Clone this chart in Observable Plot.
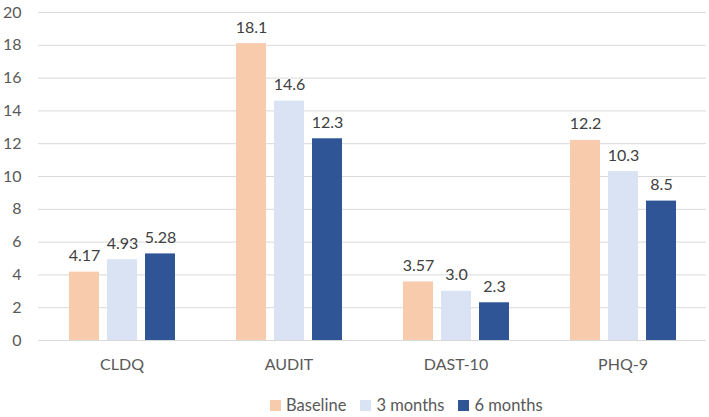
<!DOCTYPE html>
<html>
<head>
<meta charset="utf-8">
<script src="https://cdn.jsdelivr.net/npm/d3@7"></script>
<script src="https://cdn.jsdelivr.net/npm/@observablehq/plot@0.6"></script>
<style>
  html, body { margin: 0; padding: 0; background: #fff; }
  body { width: 709px; height: 417px; overflow: hidden; font-family: Lato, "Noto Sans", sans-serif; }
  #legend { display: flex; align-items: center; margin-top: 10px; height: 20px; padding-left: 270px; font-size: 16.5px; color: #595959; }
  .item { display: flex; align-items: center; margin-right: 14px; }
  .sw { width: 11px; height: 11px; margin-right: 5px; }
</style>
</head>
<body>
<div id="chart"></div>
<div id="legend"></div>
<script>
const categories = ["CLDQ", "AUDIT", "DAST-10", "PHQ-9"];
const series = ["Baseline", "3 months", "6 months"];
const colors = ["#F8CBAD", "#DAE3F3", "#2F5597"];
const baseline = [4.17, 18.1, 3.57, 12.2];
const threeMonths = [4.93, 14.6, 3.0, 10.3];
const sixMonths = [5.28, 12.3, 2.3, 8.5];
const baselineLabels = ["4.17", "18.1", "3.57", "12.2"];
const threeMonthsLabels = ["4.93", "14.6", "3.0", "10.3"];
const sixMonthsLabels = ["5.28", "12.3", "2.3", "8.5"];
const yTicks = [0, 2, 4, 6, 8, 10, 12, 14, 16, 18, 20];

const valuesBySeries = [baseline, threeMonths, sixMonths];
const labelsBySeries = [baselineLabels, threeMonthsLabels, sixMonthsLabels];
const data = [];
categories.forEach((c, i) => {
  series.forEach((s, j) => {
    data.push({category: c, series: s, value: valuesBySeries[j][i], label: labelsBySeries[j][i]});
  });
});

const chart = Plot.plot({
  width: 709,
  height: 385,
  marginLeft: 36,
  marginRight: 2,
  marginTop: 12,
  marginBottom: 45,
  style: {fontFamily: "Lato, 'Noto Sans', sans-serif", fontSize: "16px", color: "#595959", background: "#fff"},
  fx: {domain: categories, padding: 0, label: null, axis: "bottom", tickSize: 0, tickPadding: 18},
  x: {domain: series, axis: null, paddingInner: 0.216, paddingOuter: 0.8},
  y: {domain: [0, 20], ticks: yTicks, tickSize: 0, tickPadding: 17, label: null},
  color: {domain: series, range: colors},
  marks: [
    Plot.ruleY(yTicks, {stroke: "#D9D9D9", strokeWidth: 1}),
    Plot.barY(data, {fx: "category", x: "series", y: "value", fill: "series"}),
    Plot.text(data, {fx: "category", x: "series", y: "value", text: "label", lineAnchor: "bottom", dy: -11, fontSize: 16, fill: "#404040"})
  ]
});
document.getElementById("chart").appendChild(chart);

const legend = document.getElementById("legend");
series.forEach((s, j) => {
  const item = document.createElement("div");
  item.className = "item";
  const sw = document.createElement("div");
  sw.className = "sw";
  sw.style.background = colors[j];
  const t = document.createElement("span");
  t.textContent = s;
  item.appendChild(sw);
  item.appendChild(t);
  legend.appendChild(item);
});
</script>
</body>
</html>
